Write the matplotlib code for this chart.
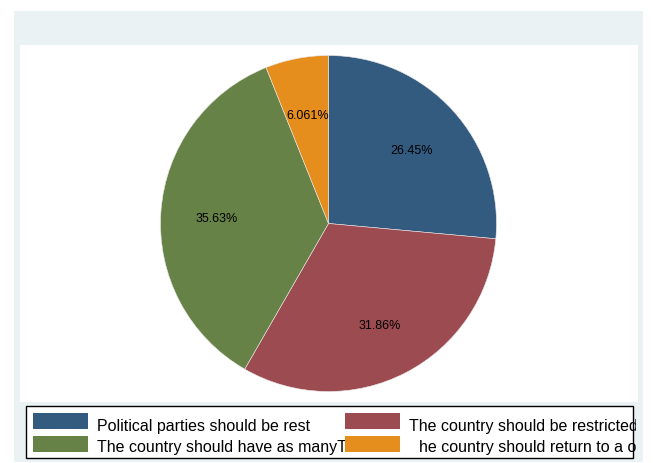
import numpy as np
import matplotlib.pyplot as plt
from matplotlib.patches import Rectangle

plt.rcParams['font.family'] = ['Liberation Sans', 'DejaVu Sans']

# 数据
labels = ["Political parties should be rest",
          "The country should be restricted",
          "The country should have as manyT",
          "he country should return to a o"]
shares = [26.45, 31.86, 35.63, 6.061]
pct_text = ["26.45%", "31.86%", "35.63%", "6.061%"]
colors = ["#335a7f", "#9c4b51", "#678246", "#e68e1d"]

W, H = 653, 463
fig = plt.figure(figsize=(W / 100, H / 100), dpi=100)


def box(x0, y0, x1, y1):
    # 像素坐标 -> 图坐标 (y 从上往下)
    return (x0 / W, 1 - y1 / H), (x1 - x0) / W, (y1 - y0) / H


# 背景
xy, w, h = box(14, 11, 643, 462)
fig.patches.append(Rectangle(xy, w, h, transform=fig.transFigure,
                             facecolor="#eaf2f3", edgecolor="none", zorder=0))
xy, w, h = box(20, 45, 638, 402)
fig.patches.append(Rectangle(xy, w, h, transform=fig.transFigure,
                             facecolor="white", edgecolor="none", zorder=0))

# 饼图
cx, cy, r = 328.5, 223.5, 168
ax = fig.add_axes([(cx - r) / W, 1 - (cy + r) / H, 2 * r / W, 2 * r / H])
ax.set_zorder(5)
ax.patch.set_visible(False)
wedges, _ = ax.pie(shares, colors=colors, startangle=90, counterclock=False,
                   radius=1, wedgeprops=dict(edgecolor="#e8e8e8", linewidth=0.4))
ax.set_xlim(-1, 1)
ax.set_ylim(-1, 1)
ax.set_aspect("equal")
ax.axis("off")

start = 90.0
for s, t in zip(shares, pct_text):
    mid = np.deg2rad(start - s * 3.6 / 2)
    ax.text(0.667 * np.cos(mid), 0.667 * np.sin(mid) - 0.018, t, ha="center",
            va="center", fontsize=9, color="black")
    start -= s * 3.6

# 图例
xy, w, h = box(26, 406, 633, 458)
fig.patches.append(Rectangle(xy, w, h, transform=fig.transFigure,
                             facecolor="white", edgecolor="black",
                             linewidth=1.0, zorder=1))
clip = Rectangle((0, 0), 636 / W, 1, transform=fig.transFigure)

rows = [421, 444]
baselines = [431, 452]
patch_x = [33, 345]
text_x = [[97, 409], [97, 419]]
for i, (lab, col) in enumerate(zip(labels, colors)):
    row, c = i // 2, i % 2
    py = rows[row]
    t = fig.text(text_x[row][c] / W, 1 - baselines[row] / H, lab, ha="left",
                 va="baseline", fontsize=11.5, color="black", zorder=2)
    t.set_clip_path(clip)
    xy, w, h = box(patch_x[c], py - 8, patch_x[c] + 55, py + 8)
    fig.patches.append(Rectangle(xy, w, h, transform=fig.transFigure,
                                 facecolor=col, edgecolor="none", zorder=3))

fig.savefig("out.png", dpi=100)
